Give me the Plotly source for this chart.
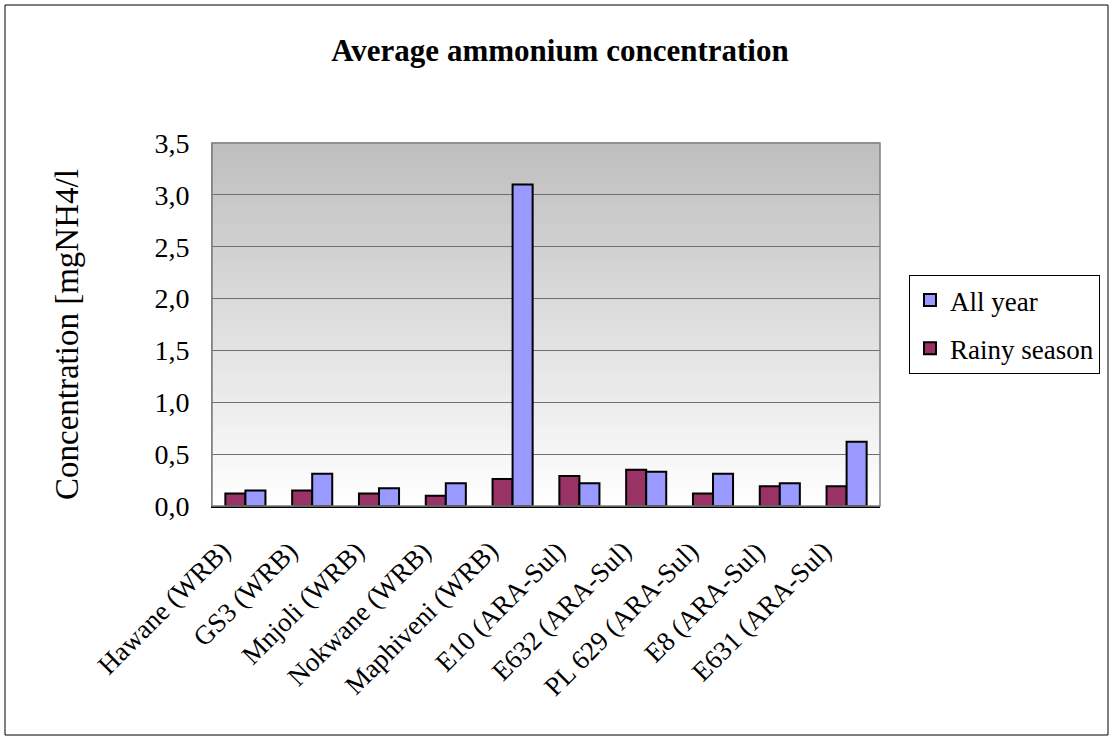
import plotly.graph_objects as go

sites = ["Hawane (WRB)", "GS3 (WRB)", "Mnjoli (WRB)", "Nokwane (WRB)", "Maphiveni (WRB)",
         "E10 (ARA-Sul)", "E632 (ARA-Sul)", "PL 629 (ARA-Sul)", "E8 (ARA-Sul)", "E631 (ARA-Sul)"]
rainy_season = [0.12, 0.15, 0.12, 0.10, 0.26, 0.29, 0.35, 0.12, 0.19, 0.19]
all_year = [0.15, 0.31, 0.17, 0.22, 3.10, 0.22, 0.33, 0.31, 0.22, 0.62]
y_ticks = [0.0, 0.5, 1.0, 1.5, 2.0, 2.5, 3.0, 3.5]

FONT = "Liberation Serif, Times New Roman, serif"

fig = go.Figure()
fig.add_trace(go.Bar(name="Rainy season", x=sites, y=rainy_season,
                     legendgroup="rainy", legendrank=2,
                     marker=dict(color="#993366", line=dict(color="black", width=2))))
fig.add_trace(go.Bar(name="All year", x=sites, y=all_year,
                     legendgroup="all", legendrank=1,
                     marker=dict(color="#9999FF", line=dict(color="black", width=2))))

# plot-area gradient: gray at top fading to white at bottom
shapes = []
n_bands = 80
for i in range(n_bands):
    t = i / n_bands
    v = int(round(255 - (255 - 190) * (t + 0.5 / n_bands)))
    shapes.append(dict(type="rect", xref="x domain", yref="y domain",
                       x0=0, x1=1, y0=t, y1=(i + 1) / n_bands + 0.002,
                       fillcolor=f"rgb({v},{v},{v})", line=dict(width=0), layer="below"))
# plot-area border
shapes.append(dict(type="rect", xref="x domain", yref="y domain", x0=0, x1=1, y0=0, y1=1,
                   line=dict(color="#808080", width=1.5), fillcolor="rgba(0,0,0,0)", layer="above"))
# outer chart frame
shapes.append(dict(type="rect", xref="paper", yref="paper",
                   x0=(5 - 212) / 668, x1=(1108 - 212) / 668,
                   y0=(506 - 735) / 363, y1=(506 - 5) / 363,
                   line=dict(color="black", width=1), fillcolor="rgba(0,0,0,0)"))

# rotated category labels hanging below the axis
annotations = [dict(x=i, y=0, xref="x", yref="paper", text=s, textangle=-45,
                    showarrow=False, xanchor="right", yanchor="top",
                    xshift=-6, yshift=-27,
                    font=dict(family=FONT, size=27, color="black"))
               for i, s in enumerate(sites)]
# y-axis title
annotations.append(dict(x=(67 - 212) / 668, y=0.471, xref="paper", yref="paper",
                        text="Concentration [mgNH4/l", textangle=-90, showarrow=False,
                        xanchor="center", yanchor="middle",
                        font=dict(family=FONT, size=33, color="black")))

fig.update_layout(
    width=1112, height=738,
    margin=dict(l=212, r=232, t=143, b=232),
    paper_bgcolor="white", plot_bgcolor="white",
    separators=",.",
    barmode="group", bargap=0.4, bargroupgap=0,
    font=dict(family=FONT, color="black"),
    title=dict(text="<b>Average ammonium concentration</b>", x=(560 - 212) / 668, xref="paper",
               xanchor="center", y=1 - 50 / 738, yanchor="middle",
               font=dict(family=FONT, size=31, color="black")),
    legend=dict(traceorder="grouped", x=(909 - 212) / 668, xanchor="left",
                y=(506 - 275) / 363, yanchor="top",
                bordercolor="black", borderwidth=1, bgcolor="white",
                font=dict(family=FONT, size=27), itemwidth=30,
                tracegroupgap=10),
    shapes=shapes,
    annotations=annotations,
)
fig.update_yaxes(range=[0, 3.5], tickvals=y_ticks, tickformat=".1f",
                 showgrid=True, gridcolor="#707070", gridwidth=1,
                 zeroline=False, showline=True, linecolor="#808080",
                 tickfont=dict(family=FONT, size=28), ticklabelstandoff=16)
fig.update_xaxes(type="category", categoryorder="array", categoryarray=sites,
                 range=[-0.5, len(sites) - 0.5],
                 showticklabels=False, showline=True, linecolor="black", linewidth=1.5,
                 showgrid=False)

fig.write_html("out.html")
